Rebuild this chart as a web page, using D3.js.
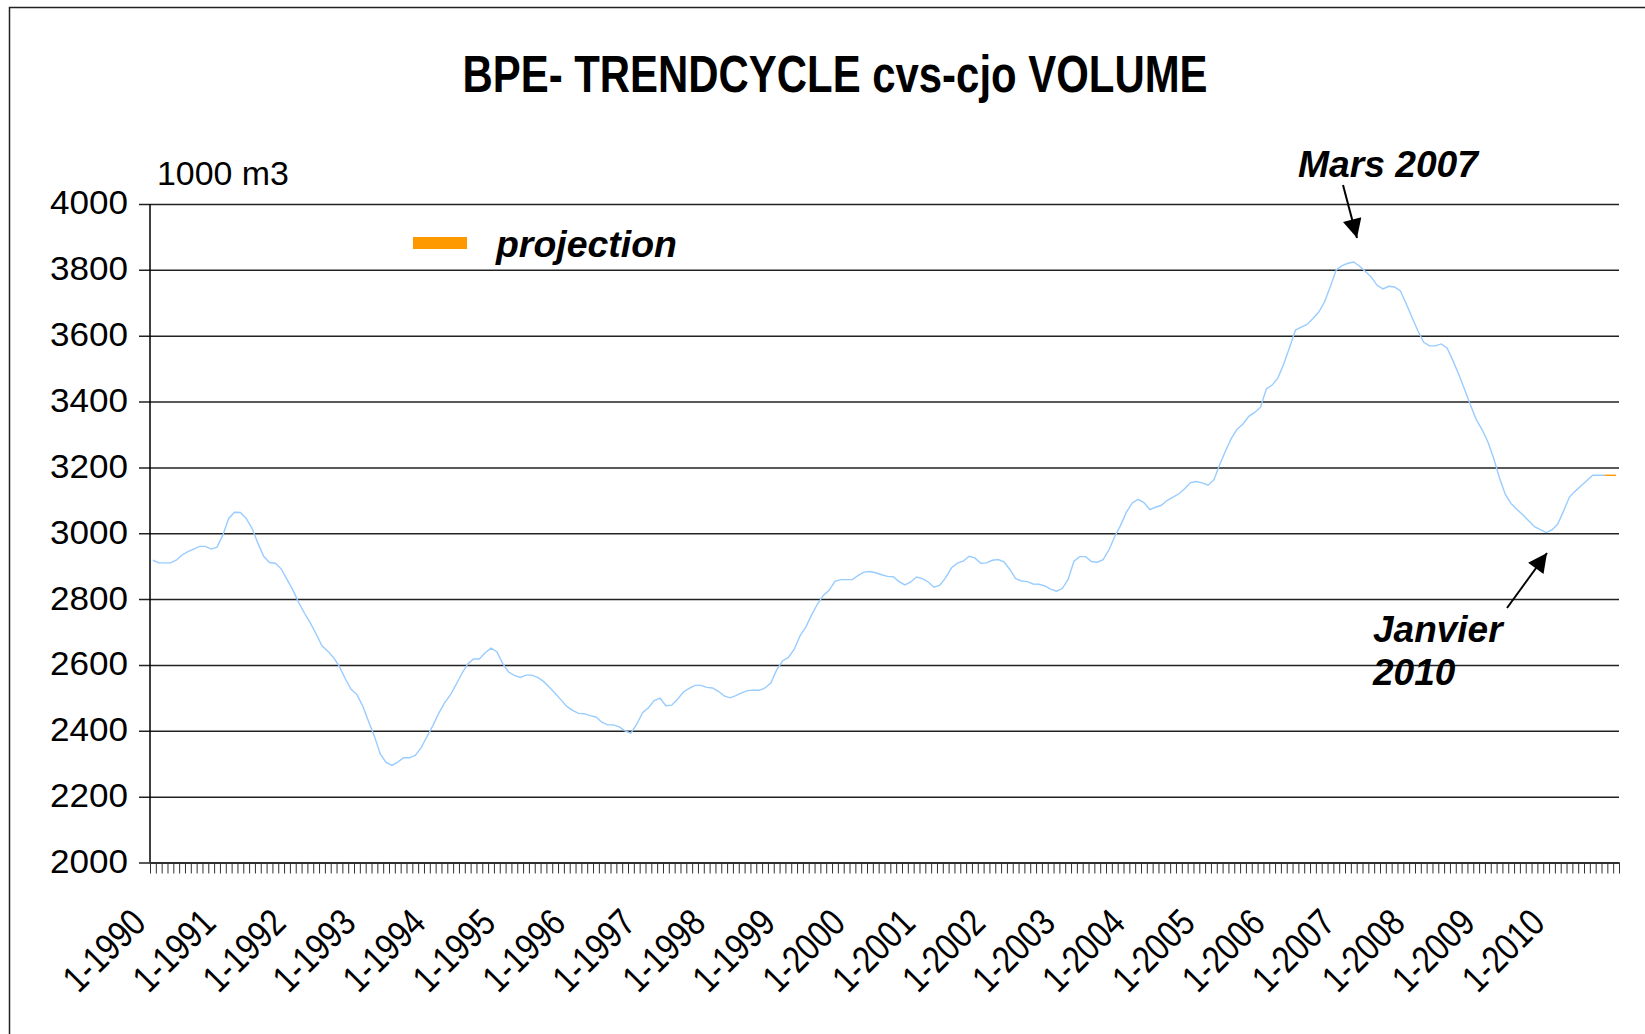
<!DOCTYPE html>
<html>
<head>
<meta charset="utf-8">
<script src="https://cdn.jsdelivr.net/npm/d3@7"></script>
<style>
  body { margin: 0; background: #fff; }
  svg text { font-family: "Liberation Sans", Arial, sans-serif; fill: #000; }
</style>
</head>
<body>
<svg id="chart" width="1645" height="1034"></svg>
<script>
// monthly trend-cycle, Jan 1990 .. Dec 2010 (1000 m3)
var trendValues = [
  2918, 2910, 2910, 2910, 2918, 2934, 2944, 2952, 2960, 2960, 2952, 2958, // 1990
  2995, 3045, 3064, 3063, 3045, 3015, 2970, 2930, 2911, 2909, 2892, 2860, // 1991
  2828, 2790, 2757, 2728, 2694, 2658, 2642, 2622, 2595, 2558, 2526, 2510, // 1992
  2475, 2428, 2383, 2330, 2304, 2295, 2305, 2318, 2318, 2325, 2348, 2382, // 1993
  2415, 2452, 2484, 2508, 2540, 2574, 2603, 2618, 2618, 2637, 2651, 2640, // 1994
  2605, 2579, 2568, 2562, 2569, 2569, 2562, 2550, 2532, 2514, 2494, 2474, // 1995
  2462, 2453, 2452, 2446, 2442, 2426, 2418, 2418, 2412, 2400, 2393, 2420, // 1996
  2455, 2470, 2492, 2499, 2476, 2478, 2496, 2518, 2529, 2538, 2538, 2532, // 1997
  2530, 2520, 2506, 2500, 2507, 2515, 2522, 2523, 2523, 2530, 2545, 2585, // 1998
  2612, 2623, 2647, 2688, 2715, 2752, 2785, 2811, 2827, 2854, 2859, 2859, // 1999
  2859, 2872, 2882, 2884, 2880, 2874, 2869, 2868, 2853, 2843, 2852, 2867, // 2000
  2862, 2852, 2836, 2842, 2865, 2895, 2909, 2915, 2930, 2925, 2909, 2910, // 2001
  2918, 2920, 2913, 2890, 2862, 2855, 2853, 2846, 2845, 2840, 2830, 2824, // 2002
  2832, 2860, 2915, 2929, 2929, 2914, 2912, 2920, 2949, 2990, 3024, 3064, // 2003
  3092, 3103, 3093, 3072, 3079, 3085, 3100, 3110, 3120, 3135, 3154, 3157, // 2004
  3153, 3146, 3162, 3208, 3250, 3288, 3316, 3332, 3355, 3367, 3383, 3438, // 2005
  3450, 3472, 3515, 3565, 3617, 3626, 3634, 3652, 3672, 3703, 3750, 3800, // 2006
  3813, 3820, 3824, 3811, 3795, 3778, 3753, 3742, 3750, 3748, 3736, 3697, // 2007
  3655, 3615, 3580, 3569, 3569, 3575, 3563, 3525, 3483, 3437, 3390, 3346, // 2008
  3315, 3278, 3228, 3168, 3118, 3090, 3072, 3056, 3038, 3020, 3011, 3002, // 2009
  3010, 3028, 3068, 3110, 3128, 3144, 3160, 3176, 3176, 3176              // 2010 (observed)
];
// projection, Oct .. Dec 2010
var projectionStart = 249;
var projectionValues = [3176, 3176, 3176];

var years = d3.range(1990, 2011);
var yTicks = [2000, 2200, 2400, 2600, 2800, 3000, 3200, 3400, 3600, 3800, 4000];
var nMonths = 252;

var svg = d3.select("#chart");

// outer frame
svg.append("rect")
    .attr("x", 9.5).attr("y", 7.5)
    .attr("width", 1700).attr("height", 1100)
    .attr("fill", "none").attr("stroke", "#222").attr("stroke-width", 1.5);

var plotLeft = 150, plotRight = 1619, plotTop = 204, plotBottom = 862.5;

var x = d3.scaleBand().domain(d3.range(nMonths)).range([plotLeft, plotRight]).padding(0);
var xb = d3.scaleLinear().domain([0, nMonths]).range([plotLeft, plotRight]);
var y = d3.scaleLinear().domain([2000, 4000]).range([plotBottom, plotTop]);

// title
svg.append("text")
    .attr("x", 835).attr("y", 92)
    .attr("text-anchor", "middle")
    .attr("font-size", 52).attr("font-weight", "bold")
    .attr("textLength", 745).attr("lengthAdjust", "spacingAndGlyphs")
    .text("BPE- TRENDCYCLE cvs-cjo VOLUME");

// unit
svg.append("text")
    .attr("x", 157).attr("y", 185)
    .attr("font-size", 34)
    .attr("textLength", 132).attr("lengthAdjust", "spacingAndGlyphs")
    .text("1000 m3");

// grid + y labels
var yAxis = svg.append("g")
    .attr("transform", "translate(139,0)")
    .call(d3.axisLeft(y).tickValues(yTicks).tickSize(-(plotRight - 139)).tickPadding(11).tickFormat(d3.format("d")));
yAxis.select(".domain").remove();
yAxis.selectAll(".tick line").attr("stroke", "#222").attr("stroke-width", 1.5);
yAxis.selectAll(".tick text")
    .attr("font-size", 33)
    .attr("dy", "0.3em")
    .attr("textLength", 78).attr("lengthAdjust", "spacingAndGlyphs");

// vertical axis line
svg.append("line")
    .attr("x1", plotLeft).attr("x2", plotLeft)
    .attr("y1", plotTop).attr("y2", plotBottom)
    .attr("stroke", "#000").attr("stroke-width", 1.5);

// x axis: one tick per month boundary
var xAxis = svg.append("g")
    .attr("transform", "translate(0," + plotBottom + ")")
    .call(d3.axisBottom(xb).tickValues(d3.range(nMonths + 1)).tickSize(11).tickSizeOuter(0).tickFormat(""));
xAxis.select(".domain").attr("stroke", "#222").attr("stroke-width", 1.5);
xAxis.selectAll(".tick line").attr("stroke", "#333").attr("stroke-width", 1);

var cx = function (i) { return x(i) + x.bandwidth() / 2; };

// year labels
svg.append("g").selectAll("text")
    .data(years)
    .join("text")
    .attr("transform", function (d) {
        var i = (d - 1990) * 12;
        return "translate(" + (cx(i) - 5) + ",925) rotate(-45)";
    })
    .attr("text-anchor", "end")
    .attr("font-size", 38)
    .attr("textLength", 98).attr("lengthAdjust", "spacingAndGlyphs")
    .text(function (d) { return "1-" + d; });

// series
var line = d3.line()
    .x(function (d) { return cx(d[0]); })
    .y(function (d) { return y(d[1]); });

svg.append("path")
    .datum(trendValues.map(function (v, i) { return [i, v]; }))
    .attr("fill", "none")
    .attr("stroke", "#99CCFF")
    .attr("stroke-width", 1.4)
    .attr("d", line);

svg.append("path")
    .datum(projectionValues.map(function (v, i) { return [projectionStart + i, v]; }))
    .attr("fill", "none")
    .attr("stroke", "#FF9900")
    .attr("stroke-width", 1.4)
    .attr("d", line);

// legend
svg.append("rect")
    .attr("x", 413).attr("y", 237).attr("width", 54).attr("height", 12)
    .attr("fill", "#FF9900");
svg.append("text")
    .attr("x", 496).attr("y", 257)
    .attr("font-size", 36).attr("font-weight", "bold").attr("font-style", "italic")
    .attr("textLength", 181).attr("lengthAdjust", "spacingAndGlyphs")
    .text("projection");

// annotations
svg.append("defs").append("marker")
    .attr("id", "arrow")
    .attr("viewBox", "0 0 10 10")
    .attr("refX", 10).attr("refY", 5)
    .attr("markerUnits", "userSpaceOnUse")
    .attr("markerWidth", 21).attr("markerHeight", 19)
    .attr("orient", "auto")
    .append("path")
    .attr("d", "M0,0 L10,5 L0,10 z")
    .attr("fill", "#000");

svg.append("text")
    .attr("x", 1298).attr("y", 177)
    .attr("font-size", 37).attr("font-weight", "bold").attr("font-style", "italic")
    .attr("textLength", 180).attr("lengthAdjust", "spacingAndGlyphs")
    .text("Mars 2007");
svg.append("line")
    .attr("x1", 1343).attr("y1", 185).attr("x2", 1357).attr("y2", 238)
    .attr("stroke", "#000").attr("stroke-width", 2)
    .attr("marker-end", "url(#arrow)");

var jan = svg.append("text")
    .attr("font-size", 37).attr("font-weight", "bold").attr("font-style", "italic");
jan.append("tspan").attr("x", 1373).attr("y", 642).text("Janvier");
jan.append("tspan").attr("x", 1373).attr("y", 685).text("2010");
svg.append("line")
    .attr("x1", 1507).attr("y1", 608).attr("x2", 1547).attr("y2", 553)
    .attr("stroke", "#000").attr("stroke-width", 2)
    .attr("marker-end", "url(#arrow)");
</script>
</body>
</html>
